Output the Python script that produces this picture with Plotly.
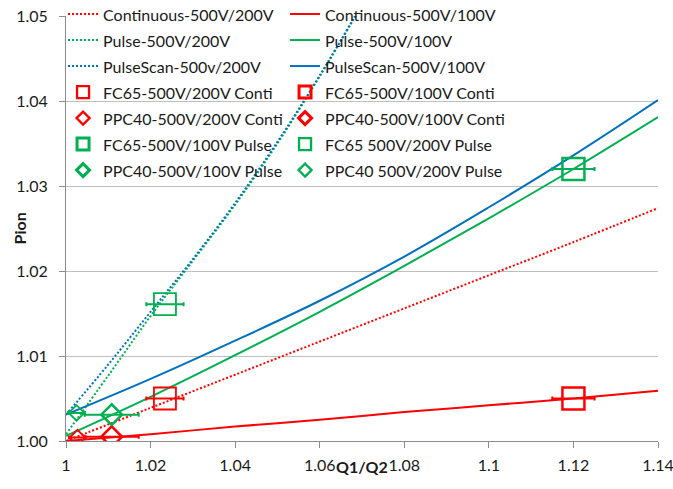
import plotly.graph_objects as go

# ---- data ----
q_grid = [1.00, 1.02, 1.04, 1.06, 1.08, 1.10, 1.12, 1.14]
cont_200 = [1.0000, 1.0039, 1.0078, 1.0117, 1.0156, 1.0195, 1.0234, 1.0274]
cont_100 = [1.0000, 1.0008, 1.0017, 1.0025, 1.0034, 1.0042, 1.0050, 1.0059]
pulse_100 = [1.0006, 1.0052, 1.0101, 1.0152, 1.0206, 1.0262, 1.0320, 1.0381]
pscan_100 = [1.0031, 1.0073, 1.0118, 1.0165, 1.0217, 1.0275, 1.0336, 1.0401]

q_steep = [1.00, 1.01, 1.02, 1.03, 1.04, 1.05, 1.06, 1.07]
pulse_200 = [1.0008, 1.0077, 1.0147, 1.0212, 1.0278, 1.0350, 1.0429, 1.0513]
pscan_200 = [1.0031, 1.0090, 1.0152, 1.0214, 1.0280, 1.0352, 1.0430, 1.0514]

# measured points: name, x, y, x-error
pt_names = ["FC65-500V/200V Conti", "FC65-500V/100V Conti",
            "PPC40-500V/200V Conti", "PPC40-500V/100V Conti",
            "FC65-500V/100V Pulse", "FC65 500V/200V Pulse",
            "PPC40-500V/100V Pulse", "PPC40 500V/200V Pulse"]
pt_x = [1.0234, 1.1200, 1.0027, 1.0108, 1.1200, 1.0234, 1.0108, 1.0025]
pt_y = [1.0050, 1.0050, 1.0004, 1.0005, 1.0320, 1.0161, 1.0031, 1.0033]
pt_err = [0.0044, 0.0050, 0.0020, 0.0064, 0.0050, 0.0044, 0.0064, 0.0020]

x_tickvals = [1.00, 1.02, 1.04, 1.06, 1.08, 1.10, 1.12, 1.14]
x_ticktext = ["1", "1.02", "1.04", "1.06", "1.08", "1.1", "1.12", "1.14"]

RED = "#FF0000"
GREEN = "#00B050"
BLUE = "#0070C0"
DOT = "2px,2px"

def lg(name):
    # legend label; larger legend font size only sets the row pitch
    return '<span style="font-size:16px">' + name + '</span>'

fig = go.Figure()

def add_line(name, x, y, color, dash):
    fig.add_trace(go.Scatter(x=x, y=y, name=lg(name), mode="lines",
                             hoverinfo="x+y",
                             line=dict(color=color, width=2, dash=dash, shape="spline")))

add_line("Continuous-500V/200V", q_grid, cont_200, RED, DOT)
add_line("Continuous-500V/100V", q_grid, cont_100, RED, "solid")
add_line("Pulse-500V/200V", q_steep, pulse_200, GREEN, DOT)
add_line("Pulse-500V/100V", q_grid, pulse_100, GREEN, "solid")
add_line("PulseScan-500v/200V", q_steep, pscan_200, BLUE, DOT)
add_line("PulseScan-500V/100V", q_grid, pscan_100, BLUE, "solid")

pt_color = [RED, RED, RED, RED, GREEN, GREEN, GREEN, GREEN]
pt_symbol = ["square-open", "square-open", "diamond-open", "diamond-open",
             "square-open", "square-open", "diamond-open", "diamond-open"]
pt_size = [22, 22, 12, 16, 22, 22, 16, 12]
pt_lw = [1.8, 2.5, 1.8, 2.5, 2.5, 1.8, 2.5, 1.8]
leg_size = [12, 12, 10, 10, 12, 12, 10, 10]

for i, nm in enumerate(pt_names):
    fig.add_trace(go.Scatter(
        x=[pt_x[i]], y=[pt_y[i]], name=nm, mode="markers", showlegend=False,
        legendgroup=nm,
        marker=dict(symbol=pt_symbol[i], size=pt_size[i], color=pt_color[i],
                    line=dict(color=pt_color[i], width=pt_lw[i])),
        error_x=dict(type="data", array=[pt_err[i]], color=pt_color[i],
                     thickness=2, width=2)))

# legend-only entries with the smaller legend symbols
for i, nm in enumerate(pt_names):
    fig.add_trace(go.Scatter(
        x=[None], y=[None], name=lg(nm), mode="markers", legendgroup=nm,
        marker=dict(symbol=pt_symbol[i], size=leg_size[i], color=pt_color[i],
                    line=dict(color=pt_color[i], width=pt_lw[i] + 0.5))))

fig.update_layout(
    width=673, height=489,
    margin=dict(l=66, r=15, t=16, b=48, autoexpand=False),
    paper_bgcolor="white", plot_bgcolor="white",
    font=dict(family="Lato", size=16, color="#1a1a1a"),
    showlegend=True,
    legend=dict(orientation="h", x=-0.005, xanchor="left", y=1.047, yanchor="top",
                bgcolor="rgba(0,0,0,0)", entrywidth=177, entrywidthmode="pixels",
                font=dict(size=17.7), tracegroupgap=0, traceorder="normal"),
    xaxis=dict(range=[1.0, 1.14], tickvals=x_tickvals, ticktext=x_ticktext,
               showgrid=False, zeroline=False, showline=True, linecolor="#8C8C8C",
               linewidth=1, ticks="outside", ticklen=6, tickcolor="#8C8C8C",
               ticklabelstandoff=4, ticklabeloverflow="allow", automargin=False),
    yaxis=dict(range=[1.0, 1.05], dtick=0.01, tickformat=".2f",
               showgrid=True, gridcolor="#BFBFBF", gridwidth=1, zeroline=False,
               showline=True, linecolor="#8C8C8C", linewidth=1,
               ticks="outside", ticklen=6, tickcolor="#8C8C8C",
               ticklabelstandoff=8, automargin=False),
    annotations=[
        dict(text="<b>Q1/Q2</b>", xref="paper", yref="paper", x=0.5, y=0,
             xanchor="center", yanchor="middle", yshift=-25, showarrow=False,
             font=dict(size=16)),
        dict(text="<b>Pion</b>", xref="paper", yref="paper", x=0, y=0.5,
             xanchor="center", yanchor="middle", xshift=-47, textangle=-90,
             showarrow=False, font=dict(size=16)),
    ],
)

fig.write_html("out.html")
